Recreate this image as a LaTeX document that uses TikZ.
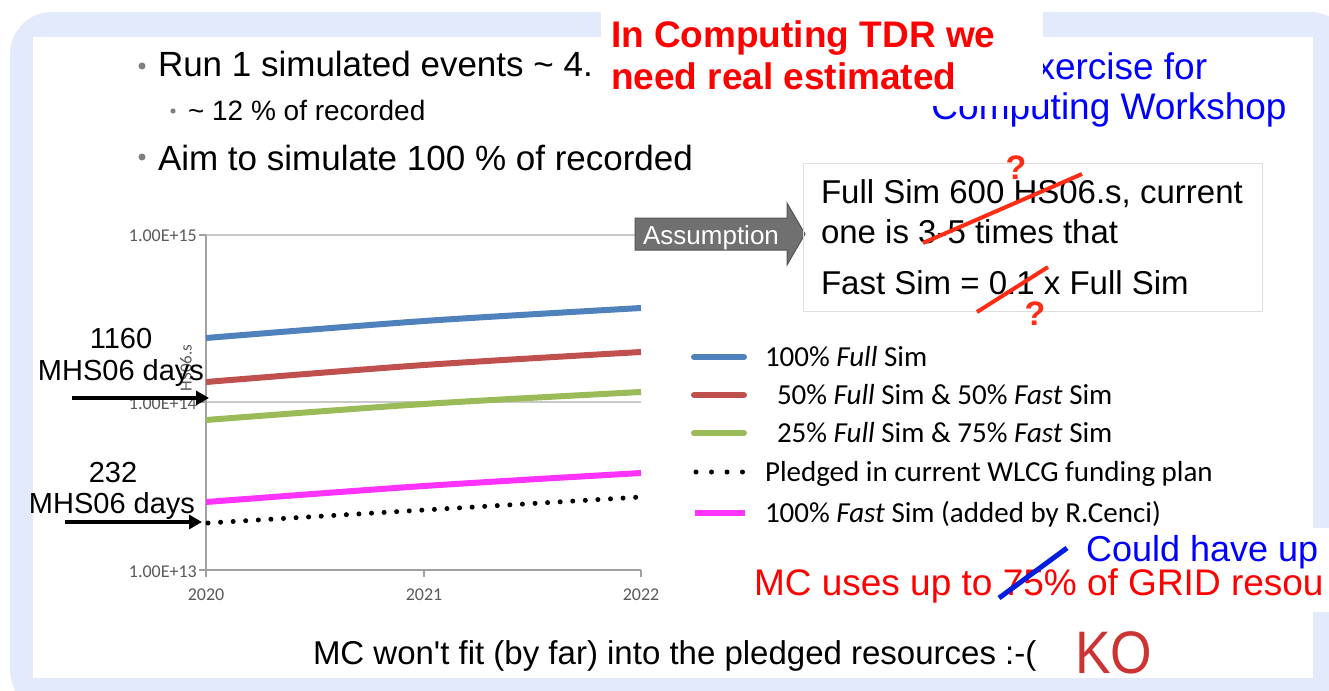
\documentclass[tikz,border=0pt]{standalone}
\usepackage{fontspec}
\usepackage{graphicx}
\setmainfont{Liberation Sans}
\newfontfamily\calibri{Carlito}
\usetikzlibrary{arrows.meta}
\definecolor{framebg}{RGB}{226,234,251}
\definecolor{serblue}{RGB}{79,129,189}
\definecolor{serred}{RGB}{192,80,77}
\definecolor{sergreen}{RGB}{155,187,89}
\definecolor{sermag}{RGB}{255,51,255}
\definecolor{gridgray}{RGB}{200,200,200}
\definecolor{axisgray}{RGB}{160,160,160}
\definecolor{ticktext}{RGB}{89,89,89}
\definecolor{arrowgray}{RGB}{112,112,112}
\definecolor{arrowedge}{RGB}{85,85,85}
\definecolor{boxgray}{RGB}{222,222,222}
\definecolor{strikered}{RGB}{255,45,20}
\definecolor{kored}{RGB}{204,51,51}
\definecolor{linkblue}{RGB}{0,0,255}
\definecolor{strikeblue}{RGB}{0,30,220}
\definecolor{bulletgray}{RGB}{128,128,128}
\newcommand\setfs[1]{\fontsize{#1}{#1}\selectfont}
\tikzset{
  txt/.style={inner sep=0pt, outer sep=0pt, anchor=base west},
  ticklbl/.style={inner sep=0pt, text=ticktext, font=\calibri\setfs{18}},
  legtxt/.style={txt, font=\calibri\setfs{29}},
  series/.style={line width=6pt},
  pledged/.style={line width=5pt, line cap=round, dash pattern=on 0pt off 12.6pt},
  annot/.style={inner sep=0pt, anchor=base, font=\setfs{29}},
  pointer/.style={line width=4pt, -{Triangle[length=13pt,width=14pt]}},
  strike/.style={strikered, line width=4pt},
  qmark/.style={inner sep=0pt, text=strikered, font=\bfseries\setfs{34}},
  bul/.style={fill=bulletgray}
}
\begin{document}
\begin{tikzpicture}[x=1pt,y=-1pt]
\useasboundingbox (0,0) rectangle (1329,690);
\fill[white] (0,0) rectangle (1329,690);
% slide frame
\fill[framebg, rounded corners=42pt] (10,12) rectangle (1352,712);
\fill[white] (33,37) rectangle (1313,678);

% bullet list
\fill[bul] (142,66) circle (3.5);
\node[txt, font=\setfs{35}] (run1) at (158,77) {Run 1 simulated events \textasciitilde{} 4.};
\fill[bul] (173,111) circle (2.6);
\node[txt, font=\setfs{28}] (frac) at (188,121) {\textasciitilde{} 12 \% of recorded};
\fill[bul] (142,157) circle (3.5);
\node[txt, font=\setfs{35}] (aim) at (158,170) {Aim to simulate 100 \% of recorded};

% blue heading, partly hidden by the red note
\node[inner sep=0pt, anchor=base, text=linkblue, font=\setfs{37}] (ex1) at (1109.5,80) {Exercise for};
\node[inner sep=0pt, anchor=base, text=linkblue, font=\setfs{37}] (ex2) at (1109,120) {Computing Workshop};
\fill[white] (601,0) rectangle (1043,106);
\node[txt, text=red, font=\bfseries\setfs{37}] (tdr1) at (611,48) {In Computing TDR we};
\node[txt, text=red, font=\bfseries\setfs{37}] (tdr2) at (611,90) {need real estimated};

% chart grid and axes
\draw[gridgray, line width=1.5pt] (206,235) -- (641,235);
\draw[gridgray, line width=1.5pt] (206,402) -- (641,402);
\draw[axisgray, line width=1.5pt] (206,235) -- (206,570) -- (641,570);
\foreach \yy in {235,402,570} \draw[axisgray, line width=1.5pt] (199,\yy) -- (206,\yy);
\foreach \xx in {206,424,641} \draw[axisgray, line width=1.5pt] (\xx,570) -- (\xx,577);
\node[ticklbl, anchor=east] (t15) at (197,236) {1.00E+15};
\node[ticklbl, anchor=east] (t14) at (197,404) {1.00E+14};
\node[ticklbl, anchor=east] (t13) at (197,572) {1.00E+13};
\node[ticklbl] (x2020) at (206,595) {2020};
\node[ticklbl] (x2021) at (424,595) {2021};
\node[ticklbl] (x2022) at (641,595) {2022};
\node[inner sep=0pt, rotate=90, text=ticktext, font=\calibri\setfs{17}] (ytitle) at (186,368) {HS06.s};

% data series
\draw[serblue, series] plot[smooth] coordinates {(206,338) (424,321) (641,308)};
\draw[serred, series] plot[smooth] coordinates {(206,382) (424,365) (641,352)};
\draw[sergreen, series] plot[smooth] coordinates {(206,420) (424,404) (641,392)};
\draw[sermag, series] plot[smooth] coordinates {(206,502) (424,486) (641,473)};
\draw[black, pledged] plot[smooth] coordinates {(208,523) (424,510) (641,497)};

% annotations on the chart
\node[annot] (v1160) at (121,348) {1160};
\node[annot] (u1160) at (121,380) {MHS06 days};
\coordinate (p1s) at (72,398);
\coordinate (p1e) at (209,398);
\draw[pointer] (p1s) -- (p1e);
\node[annot] (v232) at (113,482) {232};
\node[annot] (u232) at (112,513) {MHS06 days};
\coordinate (p2s) at (65,522);
\coordinate (p2e) at (202,522);
\draw[pointer] (p2s) -- (p2e);

% assumption arrow and box
\fill[arrowgray, draw=arrowedge, line width=1pt] (635,218) -- (787,218) -- (787,203) -- (805,234) -- (787,265) -- (787,250) -- (635,250) -- cycle;
\node[inner sep=0pt, anchor=base, text=white, font=\setfs{26}] (assum) at (711,244) {Assumption};
\node[draw=boxgray, line width=1pt, inner sep=0pt, minimum width=459pt, minimum height=148pt, anchor=north west] (abox) at (803,163) {};
\node[txt, font=\setfs{33}] (l1) at (821,203) {Full Sim 600 HS06.s, current};
\node[txt, font=\setfs{33}] (l2) at (821,243) {one is 3-5 times that};
\node[txt, font=\setfs{33}] (l3) at (821,294) {Fast Sim = 0.1 x Full Sim};
\draw[strike] (923,243) -- (1082,174);
\draw[strike] (977,312) -- (1048,267);
\node[qmark] (q1) at (1016,168) {?};
\node[qmark] (q2) at (1035,314) {?};

% legend
\draw[serblue, series, line cap=round] (694,357) -- (744,357);
\draw[serred, series, line cap=round] (694,395) -- (744,395);
\draw[sergreen, series, line cap=round] (694,433) -- (744,433);
\draw[black, pledged, dash pattern=on 0pt off 15.5pt] (696,472) -- (744,472);
\draw[sermag, series] (695,513) -- (745,513);
\node[legtxt] (lg1) at (765,366) {100\% \textit{Full} Sim};
\node[legtxt] (lg2) at (777,404) {50\% \textit{Full} Sim \& 50\% \textit{Fast} Sim};
\node[legtxt] (lg3) at (777,442) {25\% \textit{Full} Sim \& 75\% \textit{Fast} Sim};
\node[legtxt] (lg4) at (765,481) {Pledged in current WLCG funding plan};
\node[legtxt] (lg5) at (765,522) {100\% \textit{Fast} Sim (added by R.Cenci)};

% grid share note
\fill[white] (1080,528) rectangle (1329,612);
\node[txt, text=linkblue, font=\setfs{36}] (could) at (1086,561) {Could have up};
\node[txt, text=red, font=\setfs{37}] (mcuses) at (754,595) {MC uses up to 75\% of GRID resou};
\draw[strikeblue, line width=5pt] (999,598) -- (1067,548);

% conclusion
\node[txt, font=\setfs{33}] (wontfit) at (313,664) {MC won\textquotesingle t fit (by far) into the pledged resources :-(};
\node[txt, text=kored, font=\setfs{60}] (ko) at (1075,673) {\scalebox{0.89}[1]{KO}};
\end{tikzpicture}
\end{document}
